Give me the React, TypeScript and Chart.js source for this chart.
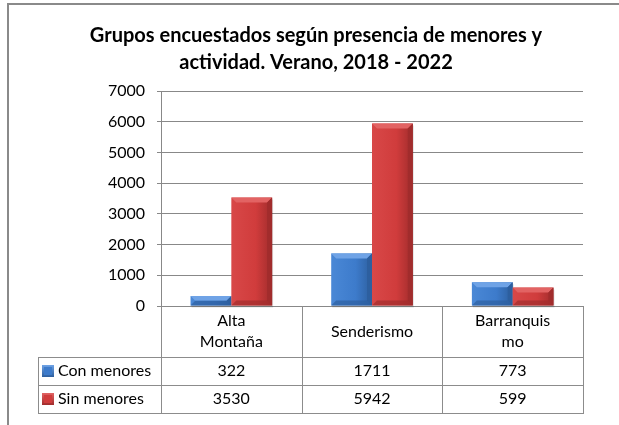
import React, { useEffect, useRef } from "react";
import { Chart, registerables } from "chart.js";

Chart.register(...registerables);

const titleLines = [
  "Grupos encuestados según presencia de menores y",
  "actividad. Verano, 2018 - 2022",
];
const categoryLines = [["Alta", "Montaña"], ["Senderismo"], ["Barranquis", "mo"]];
const categories = ["Alta Montaña", "Senderismo", "Barranquismo"];
const seriesNames = ["Con menores", "Sin menores"];
const conMenores = [322, 1711, 773];
const sinMenores = [3530, 5942, 599];
const yMin = 0;
const yMax = 7000;
const yStep = 1000;

const FONT = "Lato, 'Open Sans', sans-serif";
const BLUE = { main: "#3d7bcb", light: "#6fa3e6", dark: "#2d5f9f", side: "#4a88d6" };
const RED = { main: "#d03c3c", light: "#e26363", dark: "#a12c2c", side: "#d84848" };
const palettes = [BLUE, RED];
const LINE = "#8c8c8c";

const deco = {
  id: "deco",
  beforeDraw(chart: any) {
    const ctx = chart.ctx;
    ctx.save();
    ctx.fillStyle = "#ffffff";
    ctx.fillRect(0, 0, chart.width, chart.height);
    ctx.restore();
  },
  afterDatasetsDraw(chart: any) {
    const ctx = chart.ctx;
    ctx.save();
    chart.data.datasets.forEach((_: any, di: number) => {
      const meta = chart.getDatasetMeta(di);
      const p = palettes[di];
      meta.data.forEach((el: any) => {
        const x0 = el.x - el.width / 2;
        const x1 = el.x + el.width / 2;
        const top = el.y;
        const bot = el.base;
        const h = bot - top;
        const b = Math.min(5, h / 2);
        // soft shadow
        ctx.fillStyle = "rgba(0,0,0,0.12)";
        ctx.fillRect(x0 + 1, top + 2, x1 - x0, h);
        // body
        const g = ctx.createLinearGradient(x0, 0, x1, 0);
        g.addColorStop(0, p.side);
        g.addColorStop(0.6, p.main);
        g.addColorStop(1, p.dark);
        ctx.fillStyle = g;
        ctx.fillRect(x0, top, x1 - x0, h);
        // top face
        ctx.fillStyle = p.light;
        ctx.beginPath();
        ctx.moveTo(x0, top);
        ctx.lineTo(x1, top);
        ctx.lineTo(x1 - b, top + b);
        ctx.lineTo(x0 + b, top + b);
        ctx.closePath();
        ctx.fill();
        // right face
        ctx.fillStyle = p.dark;
        ctx.beginPath();
        ctx.moveTo(x1, top);
        ctx.lineTo(x1 - b, top + b);
        ctx.lineTo(x1 - b, bot - b);
        ctx.lineTo(x1, bot);
        ctx.closePath();
        ctx.fill();
        // bottom face
        ctx.fillStyle = p.dark;
        ctx.globalAlpha = 0.7;
        ctx.beginPath();
        ctx.moveTo(x0, bot);
        ctx.lineTo(x0 + b, bot - b);
        ctx.lineTo(x1 - b, bot - b);
        ctx.lineTo(x1, bot);
        ctx.closePath();
        ctx.fill();
        ctx.globalAlpha = 1;
      });
    });
    ctx.restore();
  },
  afterDraw(chart: any) {
    const ctx = chart.ctx;
    const { left, right, bottom } = chart.chartArea;
    const xs = chart.scales.x;
    const n = categories.length;
    ctx.save();

    // outer frame
    ctx.strokeStyle = "#8a8a8a";
    ctx.lineWidth = 2;
    ctx.beginPath();
    ctx.moveTo(8, 425);
    ctx.lineTo(8, 4);
    ctx.lineTo(619, 4);
    ctx.stroke();

    // title
    ctx.fillStyle = "#000";
    ctx.textAlign = "center";
    ctx.textBaseline = "alphabetic";
    ctx.font = `bold 20px ${FONT}`;
    titleLines.forEach((t, i) => ctx.fillText(t, 316, 42 + i * 27));

    // table geometry
    const bounds: number[] = [left];
    for (let i = 1; i < n; i++) bounds.push((xs.getPixelForValue(i - 1) + xs.getPixelForValue(i)) / 2);
    bounds.push(right);
    const headerBottom = bottom + 51;
    const rowH = 28;
    const tableBottom = headerBottom + rowH * seriesNames.length;
    const legendLeft = 38;

    ctx.strokeStyle = LINE;
    ctx.lineWidth = 1;
    ctx.beginPath();
    bounds.forEach((bx) => {
      const x = Math.round(bx) + 0.5;
      ctx.moveTo(x, bottom);
      ctx.lineTo(x, tableBottom);
    });
    ctx.moveTo(legendLeft + 0.5, headerBottom);
    ctx.lineTo(legendLeft + 0.5, tableBottom);
    for (let r = 0; r <= seriesNames.length; r++) {
      const y = Math.round(headerBottom + r * rowH) + 0.5;
      ctx.moveTo(legendLeft, y);
      ctx.lineTo(Math.round(right) + 1, y);
    }
    ctx.stroke();

    // header labels
    ctx.font = `16px ${FONT}`;
    ctx.textBaseline = "middle";
    ctx.textAlign = "center";
    const hc = (bottom + headerBottom) / 2;
    categoryLines.forEach((lines, i) => {
      const cx = (bounds[i] + bounds[i + 1]) / 2;
      const lh = 21;
      lines.forEach((ln, j) => {
        ctx.fillText(ln, cx, hc + (j - (lines.length - 1) / 2) * lh);
      });
    });

    // rows
    const values = [conMenores, sinMenores];
    seriesNames.forEach((name, r) => {
      const cy = headerBottom + rowH * r + rowH / 2;
      const p = palettes[r];
      const ix = 42, iy = Math.round(cy - 6), s = 12;
      const g = ctx.createLinearGradient(ix, iy, ix, iy + s);
      g.addColorStop(0, p.light);
      g.addColorStop(1, p.dark);
      ctx.fillStyle = g;
      ctx.fillRect(ix, iy, s, s);
      ctx.fillStyle = p.main;
      ctx.fillRect(ix + 2, iy + 2, s - 4, s - 4);
      ctx.fillStyle = "#000";
      ctx.textAlign = "left";
      ctx.fillText(name, 58, cy);
      ctx.textAlign = "center";
      values[r].forEach((v, i) => {
        const cx = (bounds[i] + bounds[i + 1]) / 2;
        ctx.fillText(String(v), cx, cy);
      });
    });
    ctx.restore();
  },
};

export default function App() {
  const ref = useRef<HTMLCanvasElement | null>(null);
  useEffect(() => {
    if (!ref.current) return;
    const chart = new Chart(ref.current, {
      type: "bar",
      data: {
        labels: categories,
        datasets: [
          { label: seriesNames[0], data: conMenores, backgroundColor: "rgba(0,0,0,0)", borderWidth: 0 },
          { label: seriesNames[1], data: sinMenores, backgroundColor: "rgba(0,0,0,0)", borderWidth: 0 },
        ],
      },
      options: {
        responsive: false,
        animation: false,
        devicePixelRatio: 1,
        layout: { padding: { top: 91, bottom: 119, right: 36, left: 0 } },
        datasets: { bar: { barPercentage: 1, categoryPercentage: 0.58 } },
        plugins: { legend: { display: false }, title: { display: false }, tooltip: { enabled: false } },
        scales: {
          x: { display: false },
          y: {
            min: yMin,
            max: yMax,
            ticks: {
              stepSize: yStep,
              color: "#000",
              font: { family: FONT, size: 16 },
              padding: 12,
              callback: (v: any) => String(v),
            },
            grid: { color: "#888888", lineWidth: 1, tickLength: 4, drawTicks: true },
            border: { display: true, color: "#888888" },
            afterFit: (s: any) => {
              s.width = 161;
            },
          },
        },
      },
      plugins: [deco],
    });
    return () => chart.destroy();
  }, []);
  return (
    <div style={{ position: "absolute", left: 0, top: 0, width: 619, height: 425, background: "#fff" }}>
      <canvas ref={ref} width={619} height={425} style={{ width: 619, height: 425, display: "block" }} />
    </div>
  );
}
